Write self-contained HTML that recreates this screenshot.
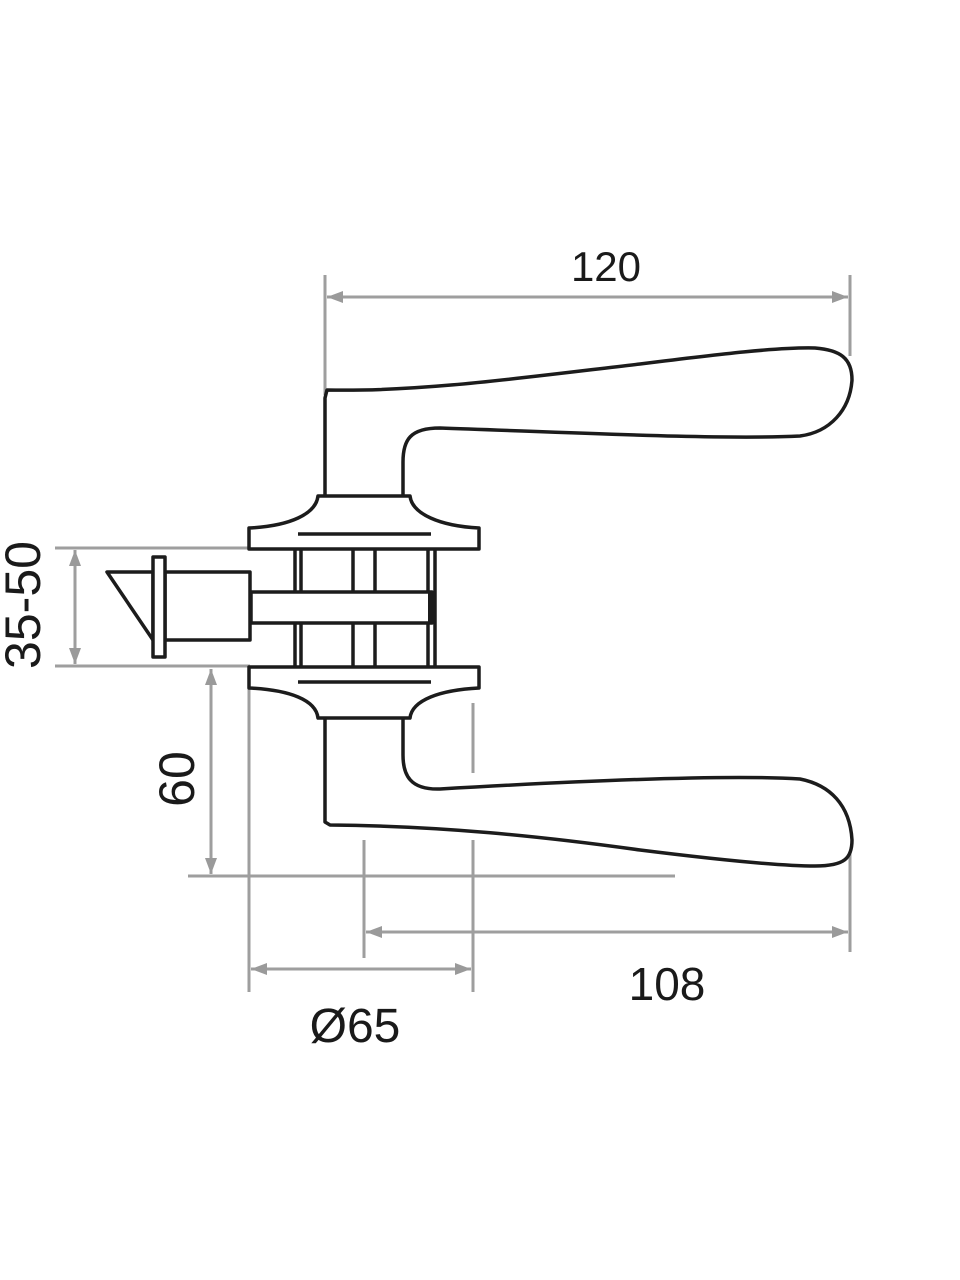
<!DOCTYPE html>
<html><head><meta charset="utf-8"><style>
html,body{margin:0;padding:0;background:#fff;}
svg{display:block;}
text{font-family:"Liberation Sans",sans-serif;fill:#1a1a1a;}
</style></head><body>
<svg width="960" height="1280" viewBox="0 0 960 1280" xmlns="http://www.w3.org/2000/svg">
<defs>
<marker id="a" viewBox="0 0 16 12" refX="16" refY="6" markerWidth="16" markerHeight="12" markerUnits="userSpaceOnUse" orient="auto-start-reverse">
<path d="M0,0 L16,6 L0,12 Z" fill="#9a9a9a"/></marker>
</defs>
<g stroke="#9e9e9e" stroke-width="3" fill="none">
<line x1="325" y1="275" x2="325" y2="395"/>
<line x1="850" y1="275" x2="850" y2="356"/>
<line x1="327" y1="297" x2="848" y2="297" marker-start="url(#a)" marker-end="url(#a)"/>
<line x1="55" y1="548" x2="250" y2="548"/>
<line x1="55" y1="666" x2="250" y2="666"/>
<line x1="75" y1="550" x2="75" y2="664" marker-start="url(#a)" marker-end="url(#a)"/>
<line x1="211" y1="669" x2="211" y2="874" marker-start="url(#a)" marker-end="url(#a)"/>
<line x1="188" y1="876" x2="675" y2="876"/>
<line x1="249" y1="688" x2="249" y2="992"/>
<line x1="473" y1="703" x2="473" y2="773"/>
<line x1="473" y1="840" x2="473" y2="992"/>
<line x1="251" y1="969" x2="471" y2="969" marker-start="url(#a)" marker-end="url(#a)"/>
<line x1="364" y1="840" x2="364" y2="958"/>
<line x1="850" y1="850" x2="850" y2="952"/>
<line x1="366" y1="932" x2="848" y2="932" marker-start="url(#a)" marker-end="url(#a)"/>
</g>
<g stroke="#1c1c1c" stroke-width="3.5" fill="#fff" stroke-linejoin="round">
<path d="M325,496 L325,398 L327,390 C420,392 520,378 640,364 C720,354 780,347 815,348 C840,350 852,358 852,380 C850,410 830,432 800,436 C720,440 560,432 440,428 C410,428 403,440 403,462 L403,496"/>
<path d="M325,718 L325,822 L330,825 C440,826 540,836 640,850 C720,860 780,866 815,866 C845,866 852,858 852,840 C850,805 830,785 800,779 C720,774 560,782 440,789 C410,790 403,775 403,755 L403,718"/>
<path d="M318,496 L410,496 C412,514 440,526 479,528 L479,549 L249,549 L249,528 C290,526 316,514 318,496 Z"/>
<path d="M249,667 L479,667 L479,688 C440,690 412,700 410,718 L318,718 C316,700 290,690 249,688 Z"/>
<rect x="165" y="572" width="85" height="68"/>
<path d="M107,572 L153,572 L153,640 Z"/>
<rect x="153" y="557" width="12" height="100"/>
<rect x="251" y="592" width="181" height="31"/>
</g>
<g stroke="#1c1c1c" stroke-width="3.5">
<line x1="298" y1="534" x2="431" y2="534"/>
<line x1="298" y1="682" x2="431" y2="682"/>
<line x1="295" y1="549" x2="295" y2="592"/><line x1="301" y1="549" x2="301" y2="592"/>
<line x1="353" y1="549" x2="353" y2="592"/><line x1="375" y1="549" x2="375" y2="592"/>
<line x1="428" y1="549" x2="428" y2="592"/><line x1="435" y1="549" x2="435" y2="667"/>
<line x1="295" y1="623" x2="295" y2="667"/><line x1="301" y1="623" x2="301" y2="667"/>
<line x1="353" y1="623" x2="353" y2="667"/><line x1="375" y1="623" x2="375" y2="667"/>
<line x1="428" y1="623" x2="428" y2="667"/>
<line x1="431" y1="592" x2="431" y2="623" stroke-width="6"/>
</g>
<text x="606" y="281" font-size="42" text-anchor="middle">120</text>
<text x="667" y="1000" font-size="46" text-anchor="middle">108</text>
<text x="355" y="1042" font-size="48" text-anchor="middle">Ø65</text>
<text transform="translate(40,605) rotate(-90)" font-size="50" text-anchor="middle">35-50</text>
<text transform="translate(194,779) rotate(-90)" font-size="50" text-anchor="middle">60</text>
</svg>
</body></html>
